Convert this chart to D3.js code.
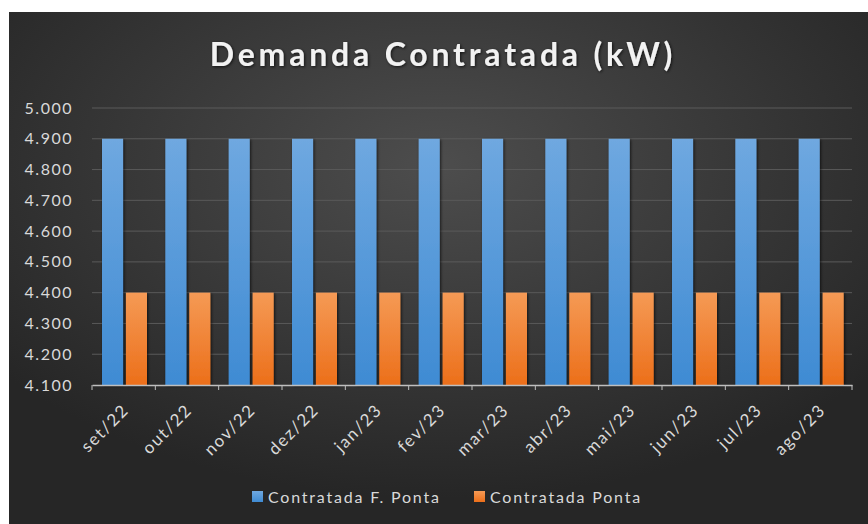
<!DOCTYPE html>
<html>
<head>
<meta charset="utf-8">
<script src="https://cdn.jsdelivr.net/npm/d3@7"></script>
<style>
  body { margin: 0; background: #fff; }
  text { font-family: Lato, "Open Sans", sans-serif; }
</style>
</head>
<body>
<div id="chart"></div>
<script>
// DATA
const months = ['set/22','out/22','nov/22','dez/22','jan/23','fev/23','mar/23','abr/23','mai/23','jun/23','jul/23','ago/23'];
const series = ['Contratada F. Ponta', 'Contratada Ponta'];
const foraPonta = [4900, 4900, 4900, 4900, 4900, 4900, 4900, 4900, 4900, 4900, 4900, 4900];
const ponta = [4400, 4400, 4400, 4400, 4400, 4400, 4400, 4400, 4400, 4400, 4400, 4400];
const yTicks = [4100, 4200, 4300, 4400, 4500, 4600, 4700, 4800, 4900, 5000];

const width = 868, height = 524;
const colors = ['blue', 'orange'];

const svg = d3.select('#chart').append('svg')
  .attr('width', width)
  .attr('height', height);

const defs = svg.append('defs');

// background glow, lighter near the title
const bg = defs.append('radialGradient')
  .attr('id', 'bg')
  .attr('cx', '50%').attr('cy', '30%').attr('r', '65%');
bg.append('stop').attr('offset', '0%').attr('stop-color', '#4d4d4d');
bg.append('stop').attr('offset', '100%').attr('stop-color', '#262626');

const gBlue = defs.append('linearGradient').attr('id', 'blue')
  .attr('x1', 0).attr('x2', 0).attr('y1', 0).attr('y2', 1);
gBlue.append('stop').attr('offset', '0%').attr('stop-color', '#6fa8e0');
gBlue.append('stop').attr('offset', '100%').attr('stop-color', '#3f8bd3');

const gOrange = defs.append('linearGradient').attr('id', 'orange')
  .attr('x1', 0).attr('x2', 0).attr('y1', 0).attr('y2', 1);
gOrange.append('stop').attr('offset', '0%').attr('stop-color', '#f59a55');
gOrange.append('stop').attr('offset', '100%').attr('stop-color', '#ec6f1a');

const shadow = defs.append('filter').attr('id', 'shadow')
  .attr('x', '-20%').attr('y', '-20%').attr('width', '140%').attr('height', '140%');
shadow.append('feDropShadow')
  .attr('dx', 1).attr('dy', 1).attr('stdDeviation', 1.5)
  .attr('flood-color', '#000').attr('flood-opacity', 0.7);

svg.append('rect')
  .attr('x', 9).attr('y', 12)
  .attr('width', width - 9).attr('height', height - 12)
  .attr('fill', 'url(#bg)');

// scales
const x0 = d3.scaleBand().domain(months).range([92, 852]);
const x1 = d3.scaleBand().domain(series).range([10, 55]).paddingInner(0.12);
const y = d3.scaleLinear().domain([4100, 5000]).range([385, 108]);

// grid
svg.append('g')
  .selectAll('line')
  .data(yTicks.slice(1))
  .join('line')
    .attr('x1', 92).attr('x2', 852)
    .attr('y1', d => y(d)).attr('y2', d => y(d))
    .attr('stroke', '#5a5a5a')
    .attr('stroke-width', 1);

// y labels, pt-BR style (4.900)
const fmt = d3.formatLocale({ decimal: ',', thousands: '.', grouping: [3], currency: ['R$', ''] }).format(',d');
svg.append('g')
  .selectAll('text')
  .data(yTicks)
  .join('text')
    .attr('x', 73)
    .attr('y', d => y(d))
    .attr('dy', '0.35em')
    .attr('text-anchor', 'end')
    .attr('fill', '#d9d9d9')
    .style('font-size', '16px')
    .style('letter-spacing', '1.5px')
    .text(d => fmt(d));

// bars
const rows = months.map((m, i) => ({ month: m, values: [foraPonta[i], ponta[i]] }));
const groups = svg.append('g')
  .selectAll('g')
  .data(rows)
  .join('g')
    .attr('transform', d => `translate(${x0(d.month)},0)`);

groups.selectAll('rect')
  .data(d => d.values.map((v, i) => ({ key: series[i], value: v, i })))
  .join('rect')
    .attr('x', d => x1(d.key))
    .attr('width', x1.bandwidth())
    .attr('y', d => y(d.value))
    .attr('height', d => y(4100) - y(d.value))
    .attr('fill', d => `url(#${colors[d.i]})`)
    .attr('filter', 'url(#shadow)');

// x axis
const xAxis = svg.append('g')
  .attr('transform', `translate(0,${y(4100)})`)
  .call(d3.axisBottom(x0).tickSize(0).tickFormat(''));
xAxis.select('.domain').attr('stroke', '#bfbfbf').attr('stroke-width', 1.5);

svg.append('g')
  .selectAll('line')
  .data(x0.domain().map(d => x0(d)).concat([852]))
  .join('line')
    .attr('x1', d => d).attr('x2', d => d)
    .attr('y1', y(4100)).attr('y2', y(4100) + 5)
    .attr('stroke', '#bfbfbf');

svg.append('g')
  .selectAll('text')
  .data(months)
  .join('text')
    .attr('transform', d => `translate(${x0(d) + x0.bandwidth() / 2 + 2},${y(4100) + 22}) rotate(-45)`)
    .attr('text-anchor', 'end')
    .attr('dy', '0.35em')
    .attr('fill', '#d9d9d9')
    .style('font-size', '17px')
    .style('letter-spacing', '1.6px')
    .text(d => d);

// title
svg.append('text')
  .attr('x', 443)
  .attr('y', 66)
  .attr('text-anchor', 'middle')
  .attr('fill', '#f2f2f2')
  .attr('filter', 'url(#shadow)')
  .style('font-size', '32px')
  .style('font-weight', 'bold')
  .style('letter-spacing', '3.8px')
  .text('Demanda Contratada (kW)');

// legend
const legend = svg.append('g')
  .selectAll('g')
  .data(series)
  .join('g')
    .attr('transform', (d, i) => `translate(${i ? 474 : 252},497)`);
legend.append('rect')
  .attr('x', 0).attr('y', -6)
  .attr('width', 11).attr('height', 11)
  .attr('fill', (d, i) => `url(#${colors[i]})`);
legend.append('text')
  .attr('x', 16)
  .attr('dy', '0.35em')
  .attr('fill', '#d9d9d9')
  .style('font-size', '16px')
  .style('letter-spacing', '1.8px')
  .text(d => d);
</script>
</body>
</html>
